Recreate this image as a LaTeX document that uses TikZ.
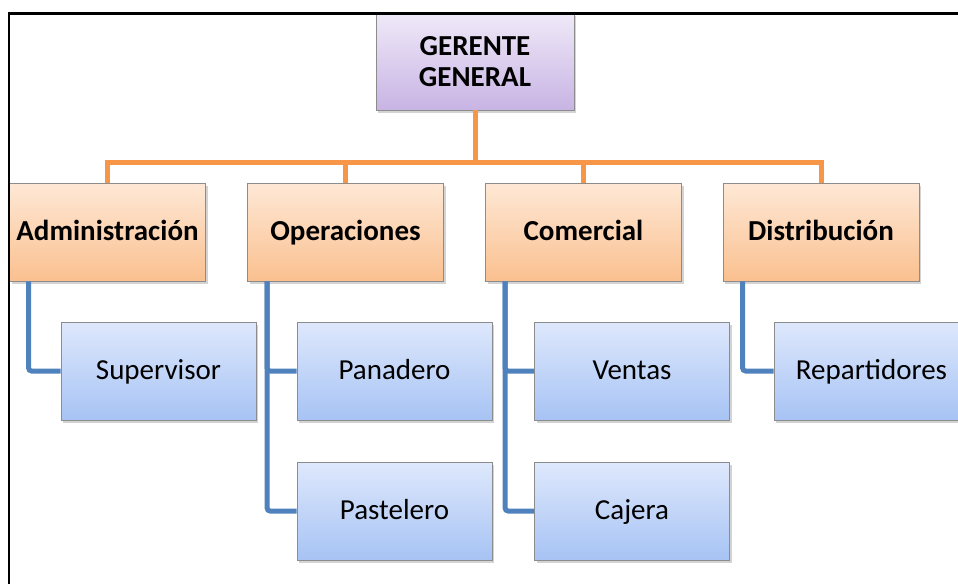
\documentclass[tikz,border=0pt]{standalone}
\usepackage{fontspec}
\setmainfont{Carlito}
\usepackage{tikz}
\usetikzlibrary{shadows}

\definecolor{gerentetop}{HTML}{EFE9F8}
\definecolor{gerentebot}{HTML}{C8B4E4}
\definecolor{areatop}{HTML}{FEE8D6}
\definecolor{areabot}{HTML}{FAC08F}
\definecolor{puestotop}{HTML}{DEE8FC}
\definecolor{puestobot}{HTML}{A7C3F4}
\definecolor{lineanaranja}{HTML}{F79646}
\definecolor{lineaazul}{HTML}{4F81BD}

\begin{document}
\begin{tikzpicture}[x=1pt,y=-1pt,
        caja/.style={draw=black!45, line width=0.8pt, minimum height=98pt,
            inner sep=0pt, align=center, font=\fontsize{29}{31}\selectfont,
            text height=21pt, text depth=4pt,
            drop shadow={shadow xshift=2pt, shadow yshift=-3pt, opacity=0.35}},
        gerente/.style={caja, top color=gerentetop, bottom color=gerentebot,
            text height=, text depth=,
            minimum width=198pt, minimum height=97pt, font=\fontsize{29}{31}\selectfont\bfseries},
        area/.style={caja, top color=areatop, bottom color=areabot,
            minimum width=196pt, font=\fontsize{29}{31}\selectfont\bfseries},
        puesto/.style={caja, top color=puestotop, bottom color=puestobot, minimum width=195pt},
        naranja/.style={draw=lineanaranja, line width=5pt},
        azul/.style={draw=lineaazul, line width=5pt, rounded corners=3pt}]
        \useasboundingbox (0,0) rectangle (958,584);
        % cajas
        \node[gerente] (gg) at (475,61.5) {GERENTE\\GENERAL};
        \node[area] (adm) at (107.5,232) {Administración};
        \node[area] (ope) at (345.5,232) {Operaciones};
        \node[area] (com) at (583.5,232) {Comercial};
        \node[area] (dis) at (821,232) {Distribución};
        \coordinate (barra) at (475,162);
        % lineas naranjas
        \draw[naranja] (gg.south) -- (barra);
        \draw[naranja] (adm.north) |- (barra);
        \draw[naranja] (ope.north) |- (barra);
        \draw[naranja] (com.north) |- (barra);
        \draw[naranja] (dis.north) |- (barra);
        \node[puesto] (sup) at (158.5,371) {Supervisor};
        \node[puesto] (pan) at (394.5,371) {Panadero};
        \node[puesto] (pas) at (394.5,511) {Pastelero};
        \node[puesto] (ven) at (632,371) {Ventas};
        \node[puesto] (caj) at (632,511) {Cajera};
        \node[puesto] (rep) at (871.5,371) {Repartidores};
        % lineas azules
        \draw[azul] ([xshift=19.5pt]adm.south west) |- (sup.west);
        \draw[azul] ([xshift=20pt]ope.south west) |- (pan.west);
        \draw[azul] ([xshift=20pt]ope.south west) |- (pas.west);
        \draw[azul] ([xshift=20pt]com.south west) |- (ven.west);
        \draw[azul] ([xshift=20pt]com.south west) |- (caj.west);
        \draw[azul] ([xshift=20pt]dis.south west) |- (rep.west);
        % marco
        \draw[line width=3pt] (958,13) -- (8,13);
        \draw[line width=2pt] (9,12) -- (9,584);
    \end{tikzpicture}
\end{document}
